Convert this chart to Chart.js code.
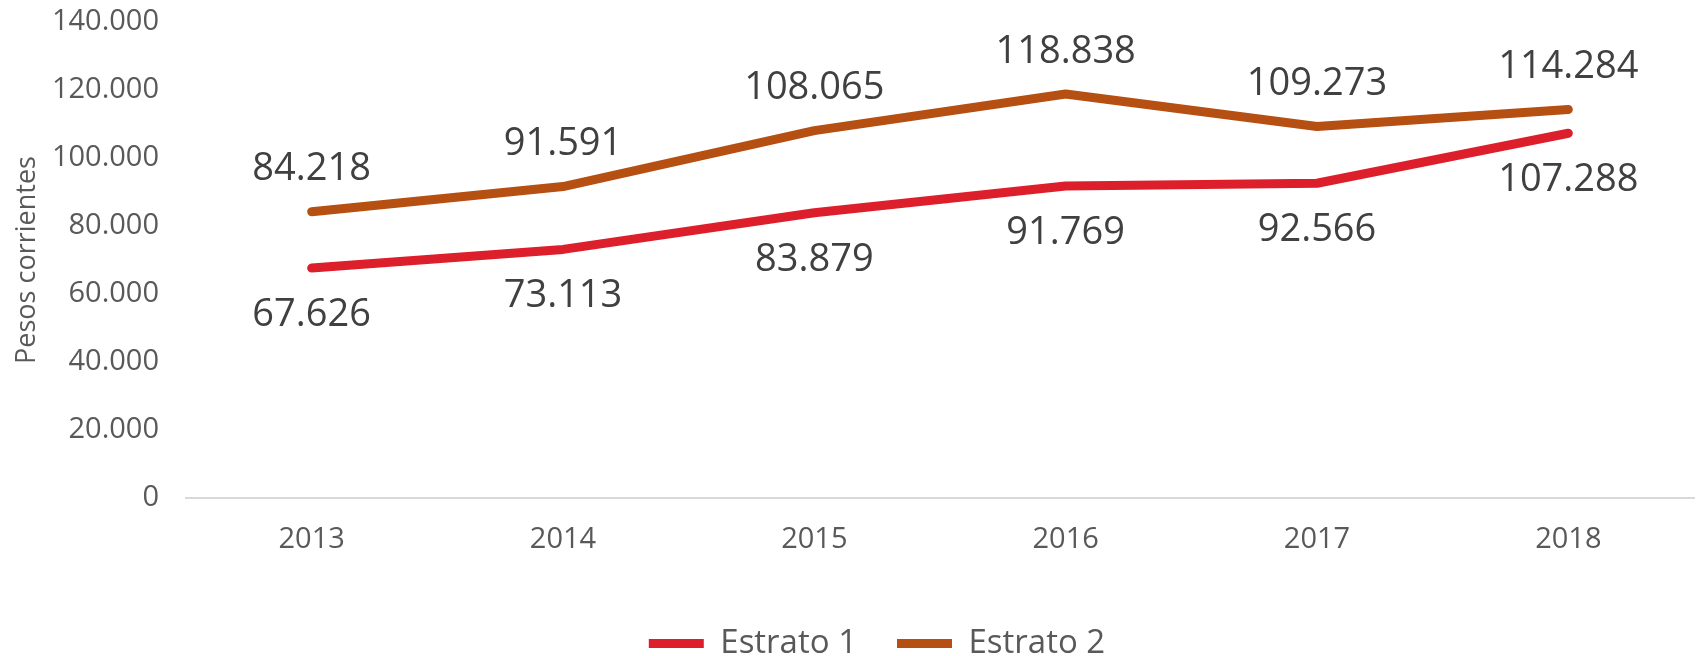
<!DOCTYPE html>
<html>
<head>
<meta charset="utf-8">
<script src="https://cdn.jsdelivr.net/npm/chart.js@4/dist/chart.umd.min.js"></script>
<style>
  html, body { margin: 0; padding: 0; background: #fff; }
  #wrap { width: 1696px; height: 656px; position: relative; }
</style>
</head>
<body>
<div id="wrap"><canvas id="lineChart"></canvas></div>
<script>
// Data
const years = ['2013', '2014', '2015', '2016', '2017', '2018'];
const estrato1 = [67626, 73113, 83879, 91769, 92566, 107288];
const estrato2 = [84218, 91591, 108065, 118838, 109273, 114284];
const yTicks = [0, 20000, 40000, 60000, 80000, 100000, 120000, 140000];

const colors = {
    red: '#DC1F2B',
    brown: '#B54F12',
    tick: '#595959',
    label: '#404040',
    axis: '#D9D9D9'
};

const font = 'Open Sans';

// thousand separator with a dot, e.g. 84.218
function fmt(v) {
    return v.toString().replace(/\B(?=(\d{3})+(?!\d))/g, '.');
}

// draws the value labels: Estrato 2 above its line, Estrato 1 below
const valueLabels = {
    id: 'valueLabels',
    afterDatasetsDraw(chart) {
        const ctx = chart.ctx;
        ctx.save();
        ctx.font = '38px "' + font + '"';
        ctx.fillStyle = colors.label;
        ctx.textAlign = 'center';
        ctx.textBaseline = 'middle';
        chart.data.datasets.forEach((ds, i) => {
            const meta = chart.getDatasetMeta(i);
            const dy = i === 0 ? 47 : -42;
            meta.data.forEach((pt, j) => {
                ctx.fillText(fmt(ds.data[j]), pt.x, pt.y + dy);
            });
        });
        ctx.restore();
    }
};

// nudge the legend a bit right and down, like the original
const legendShift = {
    id: 'legendShift',
    afterLayout(chart) {
        const lg = chart.legend;
        lg.left += 30;
        lg.right += 30;
        const dy = 670 - lg.bottom;
        lg.top += dy;
        lg.bottom += dy;
    }
};

const ctx = document.getElementById('lineChart').getContext('2d');
new Chart(ctx, {
    type: 'line',
    data: {
        labels: years,
        datasets: [
            {
                label: 'Estrato 1',
                data: estrato1,
                borderColor: colors.red,
                backgroundColor: colors.red,
                borderWidth: 9,
                borderCapStyle: 'round',
                borderJoinStyle: 'round',
                pointRadius: 0,
                tension: 0
            },
            {
                label: 'Estrato 2',
                data: estrato2,
                borderColor: colors.brown,
                backgroundColor: colors.brown,
                borderWidth: 9,
                borderCapStyle: 'round',
                borderJoinStyle: 'round',
                pointRadius: 0,
                tension: 0
            }
        ]
    },
    options: {
        responsive: true,
        maintainAspectRatio: false,
        animation: false,
        layout: {
            padding: { top: 22, left: 0, right: 2, bottom: 0 }
        },
        plugins: {
            legend: {
                position: 'bottom',
                labels: {
                    usePointStyle: true,
                    pointStyle: 'line',
                    pointStyleWidth: 55,
                    boxHeight: 9,
                    padding: 40,
                    color: colors.tick,
                    font: { family: font, size: 33 }
                }
            },
            tooltip: { enabled: false }
        },
        scales: {
            x: {
                offset: true,
                grid: { display: false },
                border: { color: colors.axis, width: 2 },
                ticks: {
                    color: colors.tick,
                    padding: 16,
                    font: { family: font, size: 29 }
                },
                afterFit: function (s) { s.height = 75; }
            },
            y: {
                min: 0,
                max: 140000,
                afterBuildTicks: function (s) {
                    s.ticks = yTicks.map(v => ({ value: v }));
                },
                grid: { display: false },
                border: { display: false },
                ticks: {
                    color: colors.tick,
                    padding: 19,
                    font: { family: font, size: 29 },
                    callback: function (value) { return fmt(value); }
                },
                title: {
                    display: true,
                    text: 'Pesos corrientes',
                    color: colors.tick,
                    padding: { top: 11, bottom: 4 },
                    font: { family: font, size: 27 }
                },
                afterFit: function (s) {
                    s.width = 186;
                    s.paddingTop = 0;
                    s.paddingBottom = 0;
                }
            }
        }
    },
    plugins: [valueLabels, legendShift]
});
</script>
</body>
</html>
